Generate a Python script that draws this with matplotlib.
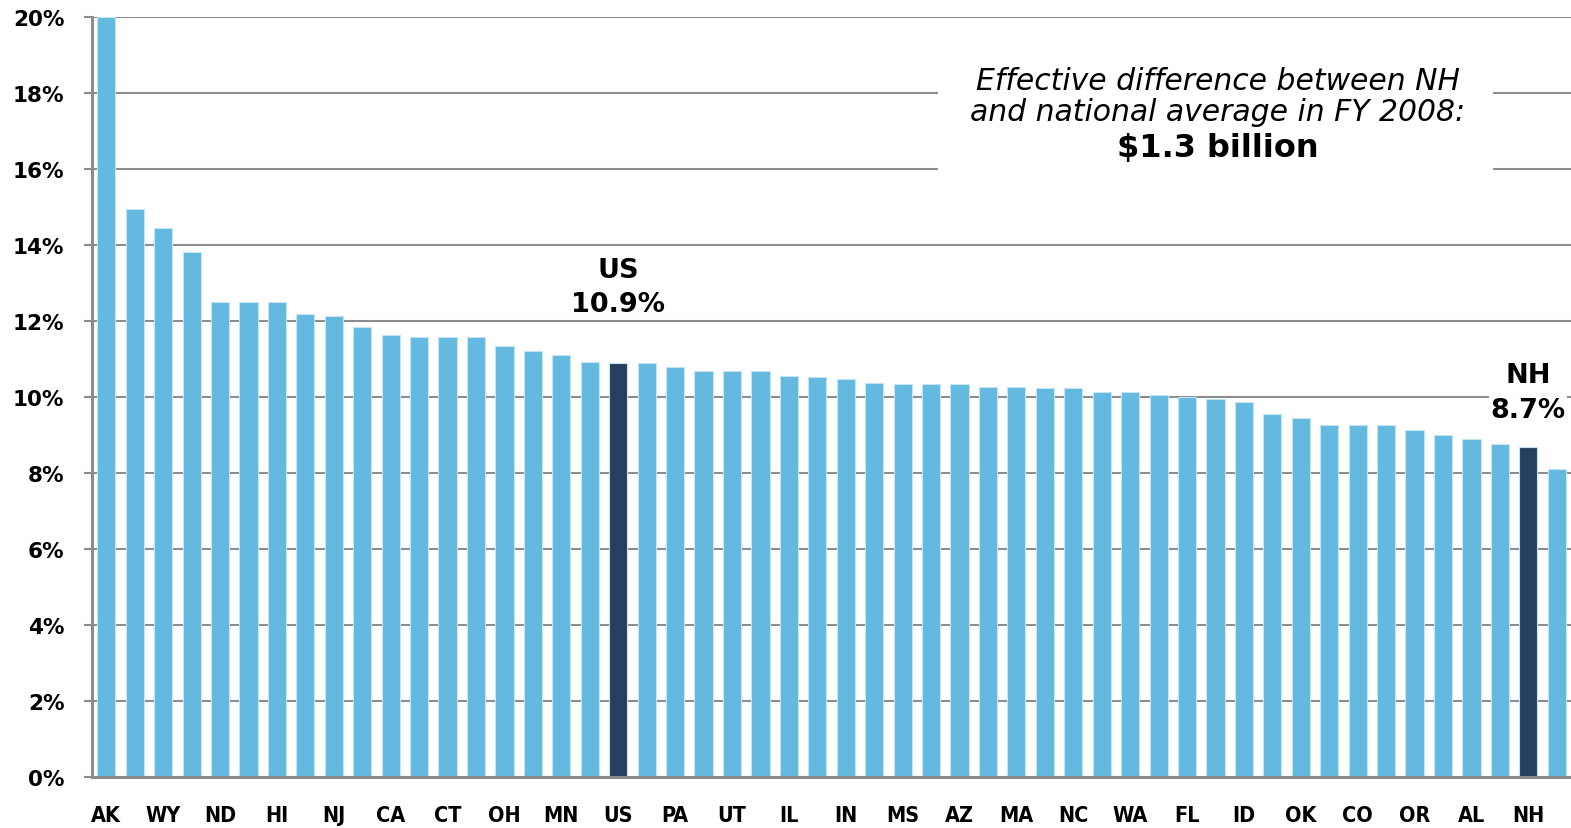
"""
Per-capita spending share by state, with US and NH highlighted.
"""

import matplotlib.pyplot as plt
import numpy as np
from matplotlib.patches import Rectangle

OUTPUT_IMAGE = 'out.png'

# tick labels shown under every other bar (the chart only prints half of them)
tick_labels = ['AK', 'WY', 'ND', 'HI', 'NJ', 'CA', 'CT', 'OH', 'MN', 'US', 'PA', 'UT', 'IL',
               'IN', 'MS', 'AZ', 'MA', 'NC', 'WA', 'FL', 'ID', 'OK', 'CO', 'OR', 'AL', 'NH']

# bar values in percent, left to right (52 bars)
rates = [20.0, 14.96, 14.45, 13.81, 12.51, 12.51, 12.51, 12.18, 12.13, 11.86,
         11.63, 11.58, 11.58, 11.58, 11.35, 11.21, 11.12, 10.92, 10.89, 10.89,
         10.79, 10.70, 10.70, 10.70, 10.57, 10.52, 10.47, 10.38, 10.34, 10.34,
         10.34, 10.28, 10.28, 10.24, 10.24, 10.15, 10.15, 10.06, 10.01, 9.96,
         9.87, 9.55, 9.46, 9.28, 9.28, 9.28, 9.14, 9.00, 8.91, 8.77,
         8.69, 8.12]

highlight = ['US', 'NH']

LIGHT_BLUE = '#63b9df'
NAVY = '#263f5e'
GRID_GREY = '#8c8c8c'


def main():
    fig = plt.figure(figsize=(15.71, 8.29), dpi=100)
    ax = fig.add_axes([0.0586, 0.0612, 0.9414, 0.9168])

    x = np.arange(len(rates))
    tick_pos = x[::2]
    colors = [LIGHT_BLUE] * len(rates)
    for name in highlight:
        colors[tick_pos[tick_labels.index(name)]] = NAVY

    ax.bar(x, rates, width=0.64, color=colors, edgecolor='#c2e4f3', linewidth=0.8, zorder=2)

    ax.set_xlim(-0.5, len(rates) - 0.5)
    ax.set_ylim(0, 20)
    ax.set_yticks(np.arange(0, 21, 2))
    ax.set_yticklabels([f'{v}%' for v in range(0, 21, 2)],
                       fontsize=15.5, fontweight='bold', family=['DejaVu Sans'])
    ax.set_xticks(tick_pos)
    ax.set_xticklabels(tick_labels, fontsize=15.5, fontweight='bold', fontstretch='condensed',
                       family=['Liberation Sans Narrow', 'DejaVu Sans'])

    ax.set_axisbelow(True)
    ax.grid(axis='y', color=GRID_GREY, linewidth=1.5)
    for side in ['top', 'right']:
        ax.spines[side].set_visible(False)
    ax.spines['left'].set_color(GRID_GREY)
    ax.spines['left'].set_linewidth(2.2)
    ax.spines['bottom'].set_color(GRID_GREY)
    ax.spines['bottom'].set_linewidth(2.2)
    ax.tick_params(axis='y', length=6, width=1.5, color=GRID_GREY, pad=14)
    ax.tick_params(axis='x', length=0, pad=20)

    # highlighted bar callouts; the NH value sits over a gridline so it gets a white patch
    offsets = {'US': (37.5, 62.5), 'NH': (21.5, 46.5)}
    for name in highlight:
        i = tick_pos[tick_labels.index(name)]
        val_off, name_off = offsets[name]
        box = dict(facecolor='white', edgecolor='none', pad=1) if name == 'NH' else None
        ax.annotate(f'{rates[i]:.1f}%', xy=(i, rates[i]), xytext=(0, val_off),
                    textcoords='offset points', ha='center', va='baseline',
                    fontsize=19.5, fontweight='bold', zorder=5, bbox=box)
        ax.annotate(name, xy=(i, rates[i]), xytext=(0, name_off),
                    textcoords='offset points', ha='center', va='baseline',
                    fontsize=19.5, fontweight='bold', zorder=5)

    # note box
    ax.add_patch(Rectangle((0.572, 0.781), 0.375, 0.171, transform=ax.transAxes,
                           facecolor='white', edgecolor='none', zorder=1))
    ax.text(0.761, 0.917, 'Effective difference between NH', transform=ax.transAxes,
            ha='center', va='center', fontsize=21.5, style='italic', zorder=3)
    ax.text(0.761, 0.876, 'and national average in FY 2008:', transform=ax.transAxes,
            ha='center', va='center', fontsize=21.5, style='italic', zorder=3)
    ax.text(0.761, 0.828, '$1.3 billion', transform=ax.transAxes,
            ha='center', va='center', fontsize=23, fontweight='bold', zorder=3)

    fig.savefig(OUTPUT_IMAGE, dpi=100)


if __name__ == "__main__":
    main()
